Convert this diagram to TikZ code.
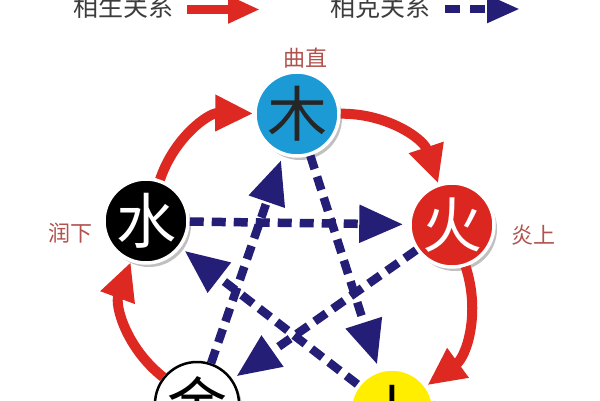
\documentclass[tikz,border=0pt]{standalone}
\usepackage{fontspec}
\setmainfont{Noto Sans CJK SC}
\usetikzlibrary{arrows.meta,shadows}
\definecolor{shengred}{RGB}{222,40,34}
\definecolor{kenavy}{RGB}{36,30,118}
\definecolor{mublue}{RGB}{28,154,214}
\definecolor{huored}{RGB}{220,38,32}
\definecolor{tuyellow}{RGB}{255,238,0}
\definecolor{labelred}{RGB}{178,82,78}
\definecolor{legendgray}{RGB}{60,60,60}
\begin{document}
\begin{tikzpicture}[x=1pt,y=1pt,
  elem/.style={circle, minimum size=84pt, inner sep=0pt, draw=white, line width=3.5pt,
    font=\fontsize{60}{60}\selectfont,
    drop shadow={shadow xshift=3pt, shadow yshift=-4pt, opacity=0.35, fill=black!70}},
  sheng/.style={draw=shengred, line width=10pt, -{Triangle[length=38pt,width=34pt]}},
  ke/.style={draw=kenavy, line width=8.5pt, dash pattern=on 14pt off 8pt,
    -{Triangle[length=44pt,width=36pt]}, shorten >=5pt},
  lbl/.style={text=labelred, font=\fontsize{22}{22}\selectfont},
  leg/.style={text=legendgray, font=\fontsize{25}{25}\selectfont}
]
\useasboundingbox (0,0) rectangle (600,-400);
\clip (0,0) rectangle (600,-400);
\fill[white] (0,0) rectangle (600,-400);

% legend
\node[leg] (legsheng) at (123,-7) {相生关系};
\coordinate (ls1) at (187,-9.5);
\coordinate (ls2) at (260,-9.5);
\draw[sheng, line width=9pt, -{Triangle[length=32pt,width=26pt]}] (ls1) -- (ls2);
\node[leg] (legke) at (380,-7) {相克关系};
\coordinate (lk1) at (445,-9);
\coordinate (lk2) at (520,-9);
\draw[ke, line width=8pt, shorten >=0pt, dash pattern=on 15pt off 10pt, -{Triangle[length=33pt,width=26pt]}] (lk1) -- (lk2);

% elements
\node[elem, fill=mublue, text=black!85] (mu) at (297,-114) {木};
\node[elem, fill=black, text=white] (shui) at (146,-221) {水};
\node[elem, fill=huored, text=white] (huo) at (452,-225) {火};
\node[elem, fill=white, draw=black, line width=2.5pt, text=black] (jin) at (197,-404) {金};
\node[elem, fill=tuyellow, text=black] (tu) at (392,-411) {土};

% labels
\node[lbl] (quzhi) at (305,-58) {曲直};
\node[lbl] (runxia) at (70,-233) {润下};
\node[lbl] (yanshang) at (533,-235) {炎上};

% generating cycle
\draw[sheng] (shui) to[bend left=36] (mu);
\draw[sheng] (mu) to[bend left=36] (huo);
\draw[sheng] (huo) to[bend left=36] (tu);
\draw[sheng] (tu) to[bend left=36] (jin);
\draw[sheng] (jin) to[bend left=36] (shui);

% controlling cycle
\draw[ke] (mu) -- (tu);
\draw[ke] (tu) -- (shui);
\draw[ke] (shui) -- (huo);
\draw[ke] (huo) -- (jin);
\draw[ke] (jin) -- (mu);
\end{tikzpicture}
\end{document}
